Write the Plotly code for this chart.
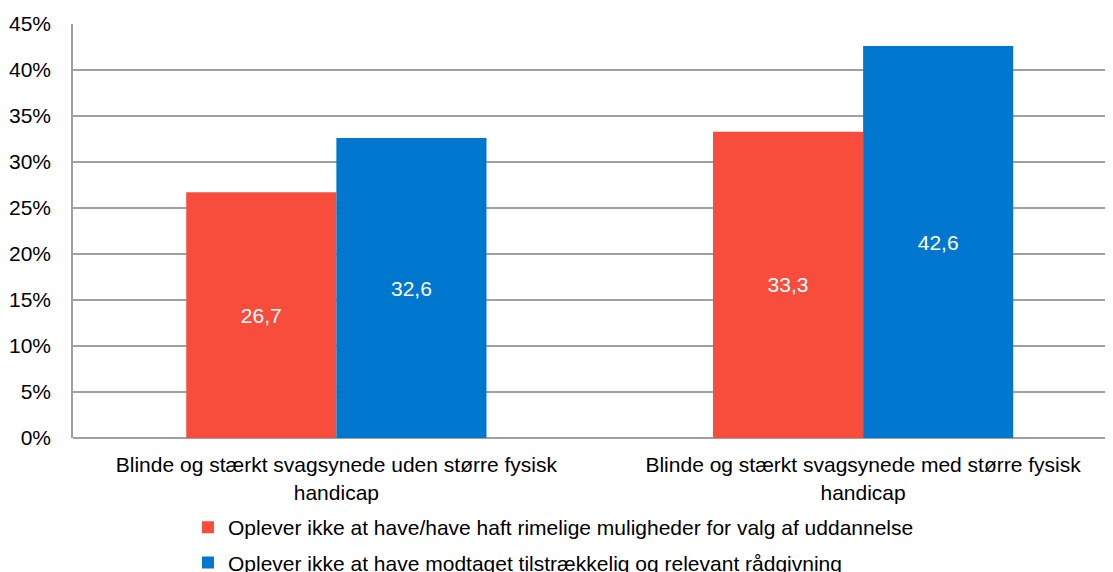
import plotly.graph_objects as go

categories = ["Blinde og stærkt svagsynede uden større fysisk<br>handicap",
              "Blinde og stærkt svagsynede med større fysisk<br>handicap"]
series_names = ["Oplever ikke at have/have haft rimelige muligheder for valg af uddannelse",
                "Oplever ikke at have modtaget tilstrækkelig og relevant rådgivning"]
red_values = [26.7, 33.3]
blue_values = [32.6, 42.6]
y_ticks = [0, 5, 10, 15, 20, 25, 30, 35, 40, 45]
y_tick_labels = [f"{v}%" for v in y_ticks]

colors = ["#F84C3C", "#0077CF"]
font = "Liberation Sans, Arial, sans-serif"
fs = 21

fig = go.Figure()
for i, (name, vals, col) in enumerate(zip(series_names, [red_values, blue_values], colors)):
    fig.add_trace(go.Bar(
        x=categories, y=vals, name=name, marker=dict(color=col, line=dict(width=0)),
        legendgroup=f"g{i}",
        text=[f"{v:.1f}".replace(".", ",") for v in vals],
        textposition="inside", insidetextanchor="middle",
        textfont=dict(color="white", size=fs, family=font),
        hoverinfo="skip",
    ))

fig.update_layout(
    barmode="group", bargap=0.43, bargroupgap=0,
    width=1113, height=572,
    margin=dict(l=65, r=0, t=16, b=142, autoexpand=False),
    plot_bgcolor="white", paper_bgcolor="white",
    font=dict(family=font, size=fs, color="#000000"),
    uniformtext=dict(mode="show", minsize=fs),
    legend=dict(orientation="v", x=0.1097, xref="paper", y=-0.167, yanchor="top",
                xanchor="left", font=dict(size=fs, family=font),
                itemwidth=30, tracegroupgap=5, traceorder="grouped"),
)
fig.update_xaxes(range=[-0.5, 1.4896], tickfont=dict(size=fs), showgrid=False,
                 showline=False, ticks="outside", ticklen=8, tickcolor="rgba(0,0,0,0)")
fig.update_yaxes(range=[0, 45], tickvals=y_ticks, ticktext=y_tick_labels,
                 showgrid=True, gridcolor="#A0A0A0", gridwidth=1.5,
                 showline=True, linecolor="#A0A0A0", linewidth=1.5,
                 zeroline=True, zerolinecolor="#A0A0A0", zerolinewidth=1.5,
                 tickfont=dict(size=fs), ticks="outside", ticklen=16, tickcolor="rgba(0,0,0,0)")

fig.write_html("out.html")
